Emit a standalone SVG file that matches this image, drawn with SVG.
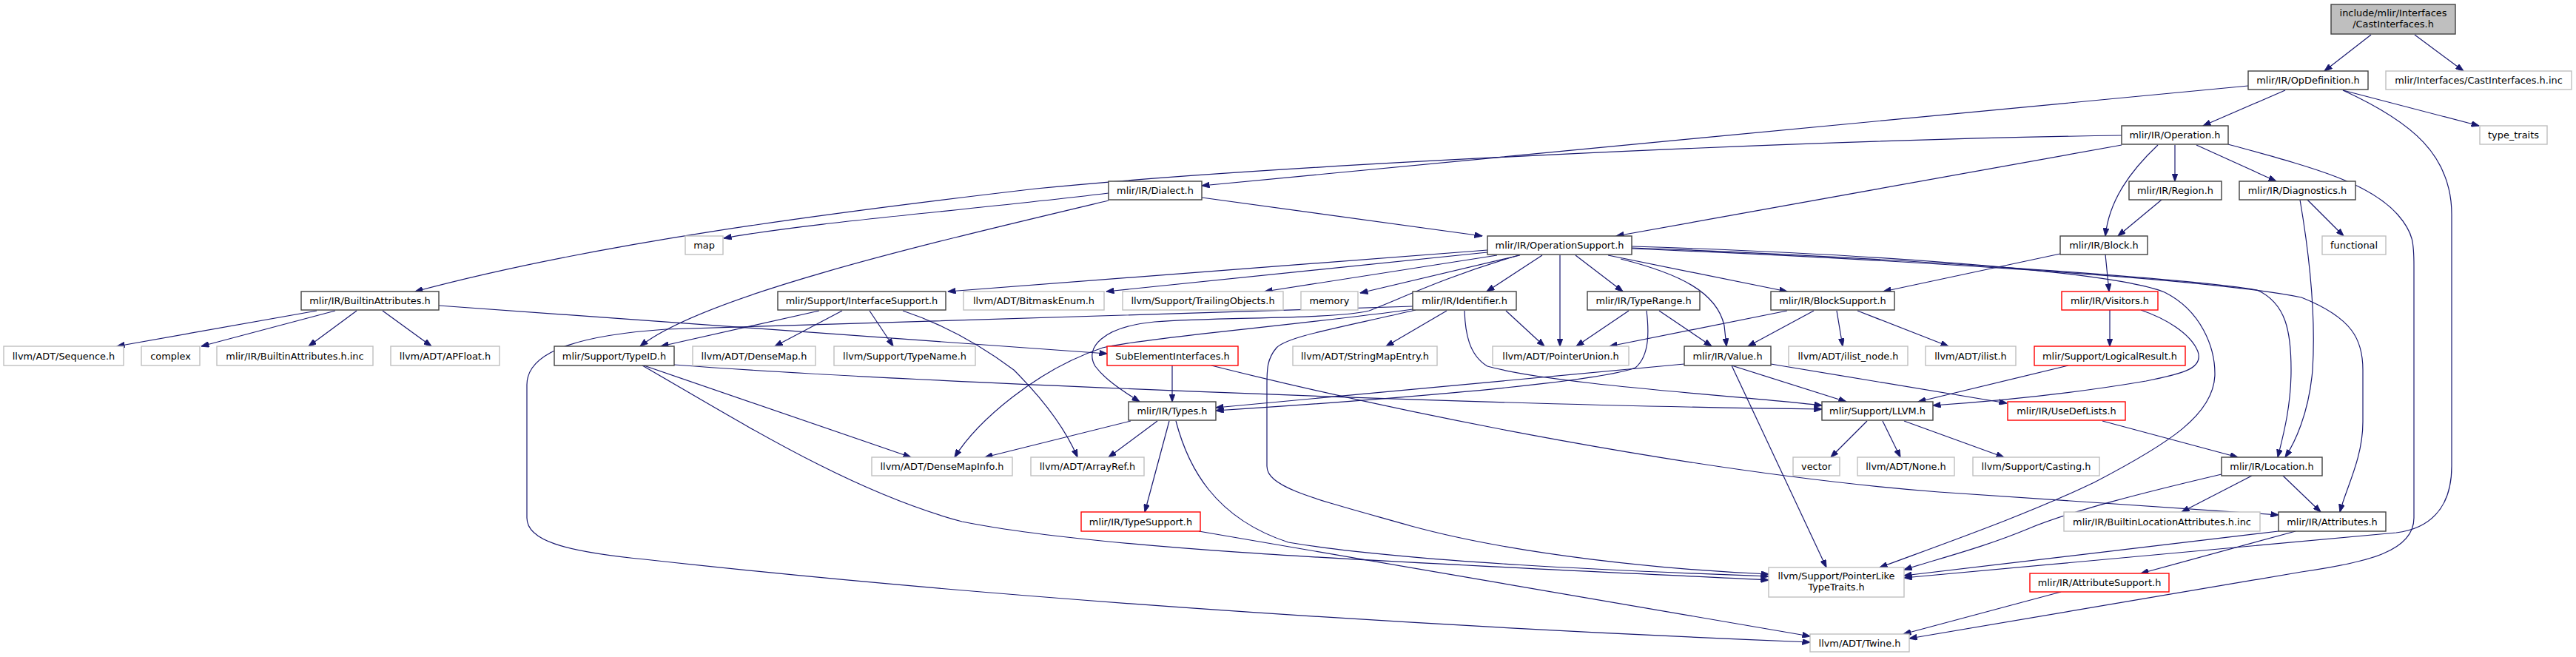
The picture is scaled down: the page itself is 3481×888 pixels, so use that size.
<svg xmlns="http://www.w3.org/2000/svg" width="3481" height="888" viewBox="0 0 3481 888">
<style>
.n rect{fill:#fff;stroke:#404040;stroke-width:1.4}
.g rect{fill:#fff;stroke:#bfbfbf;stroke-width:1.4}
.r rect{fill:#fff;stroke:#ff0000;stroke-width:1.4}
.rt rect{fill:#bfbfbf;stroke:#404040;stroke-width:1.4}
text{font-family:"DejaVu Sans","Liberation Sans",sans-serif;font-size:12.9px;fill:#000;text-anchor:middle}
#edges path{fill:none;stroke:#191970;stroke-width:1.2;marker-end:url(#a)}
</style>
<defs>
<marker id="a" markerWidth="11" markerHeight="8" refX="10.5" refY="4" orient="auto" markerUnits="userSpaceOnUse"><path d="M0,0 L11,4 L0,8 z" fill="#191970" stroke="#191970" stroke-width="0.8"/></marker>
</defs>
<rect width="3481" height="888" fill="#fff"/>
<g id="edges">
<path d="M3204,47 L3141,96"/>
<path d="M3263,47 L3329,96"/>
<path d="M3088,122 L2977,170"/>
<path d="M3166,122 L3350,170"/>
<path d="M3038,116 C2700,148 2000,215 1624,251"/>
<path d="M2867,183 C2400,190 1700,225 1400,255 C1100,290 800,330 561,394"/>
<path d="M2867,196 L2184,319"/>
<path d="M2939,196 L2939,245"/>
<path d="M2968,196 L3076,245"/>
<path d="M2916,196 C2880,230 2850,270 2845,319"/>
<path d="M3011,195 C3120,225 3200,245 3240,290 C3262,315 3262,330 3262,360 L3262,700 C3262,745 3200,760 3110,773 L2580,863"/>
<path d="M3166,122 C3260,165 3313,210 3313,290 L3313,630 C3313,690 3280,715 3238,720 L2573,781"/>
<path d="M1498,261 C1300,285 1100,300 978,322"/>
<path d="M1624,267 L2003,319"/>
<path d="M1498,271 C1250,330 950,400 865,468"/>
<path d="M2010,338 L1281,394"/>
<path d="M2010,341 L1495,394"/>
<path d="M2023,345 L1709,394"/>
<path d="M2054,345 L1838,396"/>
<path d="M2084,345 L2009,394"/>
<path d="M2108,345 L2108,468"/>
<path d="M2129,345 L2193,394"/>
<path d="M2173,345 L2415,394"/>
<path d="M2190,350 C2270,370 2320,395 2330,440 L2333,468"/>
<path d="M2052,345 C1950,375 1890,405 1850,420 C1800,432 1650,428 1560,435 C1490,442 1465,470 1480,495 C1495,515 1520,530 1540,543"/>
<path d="M2205,333 C2500,342 2850,365 2925,395 C2975,420 2993,470 2993,505 C2993,560 2930,600 2830,652 C2740,695 2640,730 2540,767"/>
<path d="M2205,335 C2500,345 2950,375 3050,392 C3090,410 3096,450 3096,500 C3096,550 3085,590 3078,618"/>
<path d="M2205,336 C2500,348 2980,375 3110,402 C3180,430 3193,460 3193,500 L3193,570 C3193,620 3170,660 3162,692"/>
<path d="M2784,343 L2545,394"/>
<path d="M2845,344 L2850,394"/>
<path d="M2921,270 L2862,319"/>
<path d="M3108,270 C3120,340 3130,420 3125,500 C3120,560 3100,600 3088,618"/>
<path d="M3118,270 L3167,319"/>
<path d="M2851,419 L2851,468"/>
<path d="M2893,419 C2925,430 2960,450 2970,475 C2978,498 2950,505 2900,515 C2800,532 2700,542 2612,548"/>
<path d="M2795,494 L2592,543"/>
<path d="M2415,420 L2175,468"/>
<path d="M2451,420 L2362,468"/>
<path d="M2482,420 L2490,468"/>
<path d="M2510,420 L2633,468"/>
<path d="M1955,420 L1873,468"/>
<path d="M2035,420 L2087,468"/>
<path d="M1979,420 C1980,450 1985,480 2010,495 C2100,520 2350,535 2462,548"/>
<path d="M1909,414 L900,445 C800,452 712,470 712,520 L712,700 C712,730 760,745 871,756 C1400,815 2000,850 2446,868"/>
<path d="M1909,418 C1750,440 1560,455 1490,470 C1400,500 1320,570 1290,618"/>
<path d="M1913,419 C1800,445 1740,455 1725,470 C1712,485 1712,500 1712,520 L1712,630 C1712,660 1780,675 1907,711 C2050,750 2250,770 2390,776"/>
<path d="M2201,420 L2130,468"/>
<path d="M2242,420 L2313,468"/>
<path d="M2225,420 C2228,445 2230,480 2210,497 C2150,520 1800,545 1643,555"/>
<path d="M2276,492 L1643,551"/>
<path d="M2340,494 L2495,543"/>
<path d="M2393,492 L2712,545"/>
<path d="M2340,494 L2468,767"/>
<path d="M1107,420 L893,468"/>
<path d="M1138,420 L1047,468"/>
<path d="M1175,420 L1207,468"/>
<path d="M1220,420 C1280,440 1330,470 1370,500 C1410,540 1440,580 1456,618"/>
<path d="M593,413 L1496,478"/>
<path d="M428,420 L158,468"/>
<path d="M453,420 L272,468"/>
<path d="M482,420 L417,468"/>
<path d="M517,420 L583,468"/>
<path d="M870,494 L1231,618"/>
<path d="M911,493 C1200,515 2000,548 2462,553"/>
<path d="M868,494 C1000,570 1150,665 1300,705 C1500,745 1900,760 2390,784"/>
<path d="M1528,569 L1331,618"/>
<path d="M1564,569 L1498,618"/>
<path d="M1580,569 L1547,692"/>
<path d="M1589,569 C1605,630 1640,700 1741,733 C1900,760 2200,772 2390,779"/>
<path d="M1584,494 L1584,543"/>
<path d="M1637,494 C1900,560 2300,640 2620,665 L3079,696"/>
<path d="M1620,718 L2446,860"/>
<path d="M2523,569 L2474,618"/>
<path d="M2544,569 L2568,618"/>
<path d="M2573,569 L2708,618"/>
<path d="M2841,569 L3024,618"/>
<path d="M3043,643 L2948,692"/>
<path d="M3085,643 L3136,692"/>
<path d="M3002,641 C2900,665 2800,690 2740,715 C2680,740 2620,755 2573,770"/>
<path d="M3102,718 L2893,775"/>
<path d="M3079,718 L2573,778"/>
<path d="M2785,800 L2572,857"/>
</g>
<g id="n_root" class="rt"><rect x="3150" y="6" width="168" height="40"/><text x="3234" y="22">include/mlir/Interfaces</text><text x="3234" y="37">/CastInterfaces.h</text></g>
<g id="n_opdefinition" class="n"><rect x="3038" y="96" width="162" height="25"/><text x="3119" y="113">mlir/IR/OpDefinition.h</text></g>
<g id="n_castinc" class="g"><rect x="3224" y="96" width="251" height="25"/><text x="3349.5" y="113">mlir/Interfaces/CastInterfaces.h.inc</text></g>
<g id="n_operation" class="n"><rect x="2867" y="170" width="144" height="25"/><text x="2939" y="187">mlir/IR/Operation.h</text></g>
<g id="n_typetraits" class="g"><rect x="3351" y="170" width="91" height="25"/><text x="3396.5" y="187">type_traits</text></g>
<g id="n_dialect" class="n"><rect x="1498" y="245" width="126" height="25"/><text x="1561" y="262">mlir/IR/Dialect.h</text></g>
<g id="n_region" class="n"><rect x="2877" y="245" width="125" height="25"/><text x="2939.5" y="262">mlir/IR/Region.h</text></g>
<g id="n_diagnostics" class="n"><rect x="3026" y="245" width="157" height="25"/><text x="3104.5" y="262">mlir/IR/Diagnostics.h</text></g>
<g id="n_map" class="g"><rect x="926" y="319" width="51" height="25"/><text x="951.5" y="336">map</text></g>
<g id="n_operationsupport" class="n"><rect x="2010" y="319" width="195" height="25"/><text x="2107.5" y="336">mlir/IR/OperationSupport.h</text></g>
<g id="n_block" class="n"><rect x="2784" y="319" width="118" height="25"/><text x="2843" y="336">mlir/IR/Block.h</text></g>
<g id="n_functional" class="g"><rect x="3138" y="319" width="86" height="25"/><text x="3181" y="336">functional</text></g>
<g id="n_builtinattributes" class="n"><rect x="407" y="394" width="186" height="25"/><text x="500" y="411">mlir/IR/BuiltinAttributes.h</text></g>
<g id="n_interfacesupport" class="n"><rect x="1051" y="394" width="227" height="25"/><text x="1164.5" y="411">mlir/Support/InterfaceSupport.h</text></g>
<g id="n_bitmaskenum" class="g"><rect x="1302" y="394" width="190" height="25"/><text x="1397" y="411">llvm/ADT/BitmaskEnum.h</text></g>
<g id="n_trailingobjects" class="g"><rect x="1517" y="394" width="217" height="25"/><text x="1625.5" y="411">llvm/Support/TrailingObjects.h</text></g>
<g id="n_memory" class="g"><rect x="1758" y="394" width="77" height="25"/><text x="1796.5" y="411">memory</text></g>
<g id="n_identifier" class="n"><rect x="1909" y="394" width="140" height="25"/><text x="1979" y="411">mlir/IR/Identifier.h</text></g>
<g id="n_typerange" class="n"><rect x="2145" y="394" width="152" height="25"/><text x="2221" y="411">mlir/IR/TypeRange.h</text></g>
<g id="n_blocksupport" class="n"><rect x="2393" y="394" width="167" height="25"/><text x="2476.5" y="411">mlir/IR/BlockSupport.h</text></g>
<g id="n_visitors" class="r"><rect x="2786" y="394" width="130" height="25"/><text x="2851" y="411">mlir/IR/Visitors.h</text></g>
<g id="n_sequence" class="g"><rect x="5" y="468" width="162" height="26"/><text x="86" y="485.5">llvm/ADT/Sequence.h</text></g>
<g id="n_complex" class="g"><rect x="191" y="468" width="79" height="26"/><text x="230.5" y="485.5">complex</text></g>
<g id="n_builtinattrinc" class="g"><rect x="293" y="468" width="211" height="26"/><text x="398.5" y="485.5">mlir/IR/BuiltinAttributes.h.inc</text></g>
<g id="n_apfloat" class="g"><rect x="528" y="468" width="147" height="26"/><text x="601.5" y="485.5">llvm/ADT/APFloat.h</text></g>
<g id="n_typeid" class="n"><rect x="749" y="468" width="162" height="26"/><text x="830" y="485.5">mlir/Support/TypeID.h</text></g>
<g id="n_densemap" class="g"><rect x="936" y="468" width="166" height="26"/><text x="1019" y="485.5">llvm/ADT/DenseMap.h</text></g>
<g id="n_typename" class="g"><rect x="1127" y="468" width="191" height="26"/><text x="1222.5" y="485.5">llvm/Support/TypeName.h</text></g>
<g id="n_subelement" class="r"><rect x="1496" y="468" width="177" height="26"/><text x="1584.5" y="485.5">SubElementInterfaces.h</text></g>
<g id="n_stringmapentry" class="g"><rect x="1747" y="468" width="195" height="26"/><text x="1844.5" y="485.5">llvm/ADT/StringMapEntry.h</text></g>
<g id="n_pointerunion" class="g"><rect x="2017" y="468" width="184" height="26"/><text x="2109" y="485.5">llvm/ADT/PointerUnion.h</text></g>
<g id="n_value" class="n"><rect x="2276" y="468" width="117" height="26"/><text x="2334.5" y="485.5">mlir/IR/Value.h</text></g>
<g id="n_ilistnode" class="g"><rect x="2417" y="468" width="161" height="26"/><text x="2497.5" y="485.5">llvm/ADT/ilist_node.h</text></g>
<g id="n_ilist" class="g"><rect x="2602" y="468" width="122" height="26"/><text x="2663" y="485.5">llvm/ADT/ilist.h</text></g>
<g id="n_logicalresult" class="r"><rect x="2749" y="468" width="204" height="26"/><text x="2851" y="485.5">mlir/Support/LogicalResult.h</text></g>
<g id="n_types" class="n"><rect x="1525" y="543" width="118" height="25"/><text x="1584" y="560">mlir/IR/Types.h</text></g>
<g id="n_llvm" class="n"><rect x="2462" y="543" width="150" height="25"/><text x="2537" y="560">mlir/Support/LLVM.h</text></g>
<g id="n_usedeflists" class="r"><rect x="2713" y="543" width="159" height="25"/><text x="2792.5" y="560">mlir/IR/UseDefLists.h</text></g>
<g id="n_densemapinfo" class="g"><rect x="1178" y="618" width="190" height="25"/><text x="1273" y="635">llvm/ADT/DenseMapInfo.h</text></g>
<g id="n_arrayref" class="g"><rect x="1393" y="618" width="153" height="25"/><text x="1469.5" y="635">llvm/ADT/ArrayRef.h</text></g>
<g id="n_vector" class="g"><rect x="2423" y="618" width="63" height="25"/><text x="2454.5" y="635">vector</text></g>
<g id="n_none" class="g"><rect x="2510" y="618" width="131" height="25"/><text x="2575.5" y="635">llvm/ADT/None.h</text></g>
<g id="n_casting" class="g"><rect x="2666" y="618" width="171" height="25"/><text x="2751.5" y="635">llvm/Support/Casting.h</text></g>
<g id="n_location" class="n"><rect x="3002" y="618" width="136" height="25"/><text x="3070" y="635">mlir/IR/Location.h</text></g>
<g id="n_typesupport" class="r"><rect x="1461" y="692" width="161" height="26"/><text x="1541.5" y="709.5">mlir/IR/TypeSupport.h</text></g>
<g id="n_builtinlocinc" class="g"><rect x="2789" y="692" width="265" height="26"/><text x="2921.5" y="709.5">mlir/IR/BuiltinLocationAttributes.h.inc</text></g>
<g id="n_attributes" class="n"><rect x="3079" y="692" width="145" height="26"/><text x="3151.5" y="709.5">mlir/IR/Attributes.h</text></g>
<g id="n_pointerlike" class="g"><rect x="2390" y="767" width="183" height="40"/><text x="2481.5" y="783">llvm/Support/PointerLike</text><text x="2481.5" y="798">TypeTraits.h</text></g>
<g id="n_attributesupport" class="r"><rect x="2743" y="775" width="188" height="25"/><text x="2837" y="792">mlir/IR/AttributeSupport.h</text></g>
<g id="n_twine" class="g"><rect x="2446" y="857" width="134" height="24"/><text x="2513" y="873.5">llvm/ADT/Twine.h</text></g>
</svg>
